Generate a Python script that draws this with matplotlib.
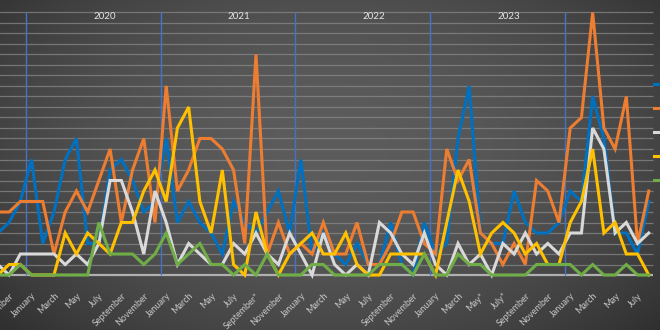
#!/usr/bin/python3

"""Monthly counts for five series, Oct 2019 - Aug 2024, on a dark background."""

import calendar

import matplotlib
matplotlib.use('Agg')
import matplotlib.pyplot as plt
import numpy as np

# month index 0 = January 2020, first point October 2019
FIRST_MONTH = -3
STARRED = {(2021, 9), (2023, 5), (2023, 7)}

BLUE = [4, 5, 7, 11, 3, 6, 11, 13, 3, 3, 10, 11, 9, 6, 7, 13, 5, 7, 5, 4,
        2, 7, 5, 4, 6, 8, 4, 11, 2, 4, 2, 1, 3, 1, 1, 5, 1, 0, 5, 2,
        3, 13, 18, 4, 3, 3, 8, 5, 4, 4, 5, 8, 7, 17, 13, 4, 4, 2, 7]
ORANGE = [6, 6, 7, 7, 7, 2, 6, 8, 6, 9, 12, 5, 10, 13, 5, 18, 8, 10, 13, 13,
          12, 10, 3, 21, 2, 5, 2, 3, 2, 5, 2, 2, 5, 1, 1, 3, 6, 6, 3, 2,
          12, 9, 11, 4, 3, 1, 3, 1, 9, 8, 5, 14, 15, 25, 14, 12, 17, 3, 8]
GRAY = [1, 0, 2, 2, 2, 2, 1, 2, 1, 3, 9, 9, 6, 2, 8, 5, 1, 3, 2, 1,
        1, 3, 2, 4, 2, 1, 4, 2, 0, 4, 1, 0, 1, 0, 5, 4, 2, 1, 4, 1,
        0, 3, 1, 2, 0, 3, 2, 4, 2, 3, 2, 4, 4, 14, 12, 4, 5, 3, 4]
YELLOW = [0, 1, 1, 0, 0, 0, 4, 2, 4, 3, 2, 5, 5, 8, 10, 7, 14, 16, 7, 4,
          10, 1, 0, 6, 2, 0, 2, 3, 4, 2, 2, 4, 1, 0, 0, 2, 2, 2, 2, 0,
          5, 10, 7, 2, 4, 5, 4, 2, 3, 1, 1, 5, 7, 12, 4, 5, 2, 2, 0]
GREEN = [0, 0, 1, 0, 0, 0, 0, 0, 0, 5, 2, 2, 2, 1, 2, 4, 1, 2, 3, 1,
         1, 0, 1, 0, 2, 0, 0, 0, 1, 1, 0, 0, 0, 0, 1, 1, 1, 0, 2, 0,
         0, 2, 1, 1, 0, 0, 0, 0, 1, 1, 1, 1, 0, 1, 0, 0, 1, 0, 0]

SERIES = [
    (BLUE, '#0070C0'),
    (ORANGE, '#ED7D31'),
    (GRAY, '#D9D9D9'),
    (YELLOW, '#FFC000'),
    (GREEN, '#70AD47'),
]

YEARS = [2020, 2021, 2022, 2023]


def month_name(index):
    year = 2020 + index // 12
    month = index % 12 + 1
    name = calendar.month_name[month]
    if (year, month) in STARRED:
        name += '*'
    return name


def background(fig):
    bg = fig.add_axes([0, 0, 1, 1], zorder=-1)
    yy, xx = np.mgrid[0:1:330j, 0:1:660j]
    r2 = (((xx - 0.5) / 0.5) ** 2 + ((yy - 0.45) / 0.6) ** 2) / 2
    shade = 0.36 - 0.19 * r2
    bg.imshow(np.dstack([shade] * 3).clip(0, 1), aspect='auto')
    bg.axis('off')


def main():
    months = np.arange(FIRST_MONTH, FIRST_MONTH + len(BLUE))

    fig = plt.figure(figsize=(6.6, 3.3), dpi=100)
    background(fig)
    ax = fig.add_axes([0, 50 / 330, 1, 280 / 330])
    ax.set_facecolor('none')
    px = 10.5
    ax.set_ylim(-5 / px, 275 / px)
    ax.set_xlim(-2.81, 56.0)

    ax.hlines(np.arange(1, 26), -5, 55.4, color='#8c8c8c', lw=0.9, alpha=0.7, zorder=1)
    ax.hlines(0, -5, 55.4, color='#b0b0b0', lw=1.6, zorder=1)
    ax.vlines([12 * i - 0.5 for i in range(5)], 0, 25, color='#4472C4', lw=1.0, zorder=2)

    handles = []
    for values, color in SERIES:
        line, = ax.plot(months, values, color=color, lw=2.2,
                        solid_joinstyle='miter', zorder=3)
        handles.append(line)

    for i, year in enumerate(YEARS):
        ax.text(12 * i + 6.5, 24.6, str(year), color='#e6e6e6', fontsize=7,
                ha='center', va='center', family='Lato')

    ticks = months[1::2]
    ax.set_xticks(ticks)
    ax.set_xticklabels([month_name(m) for m in ticks], rotation=45, ha='right',
                       rotation_mode='anchor', color='#c8c8c8', fontsize=6.5,
                       family='Lato')
    ax.tick_params(axis='x', length=0, pad=8)
    ax.set_yticks([])
    for spine in ax.spines.values():
        spine.set_visible(False)

    # legend text lies beyond the right edge in the source, only the keys show
    fig.legend(handles, [''] * len(handles), loc='upper left',
               bbox_to_anchor=(654 / 660, 1 - 80 / 330),
               frameon=False, handlelength=1.0, labelspacing=1.25, fontsize=8,
               borderpad=0, borderaxespad=0)

    fig.savefig('out.png', dpi=100)


if __name__ == '__main__':
    main()
